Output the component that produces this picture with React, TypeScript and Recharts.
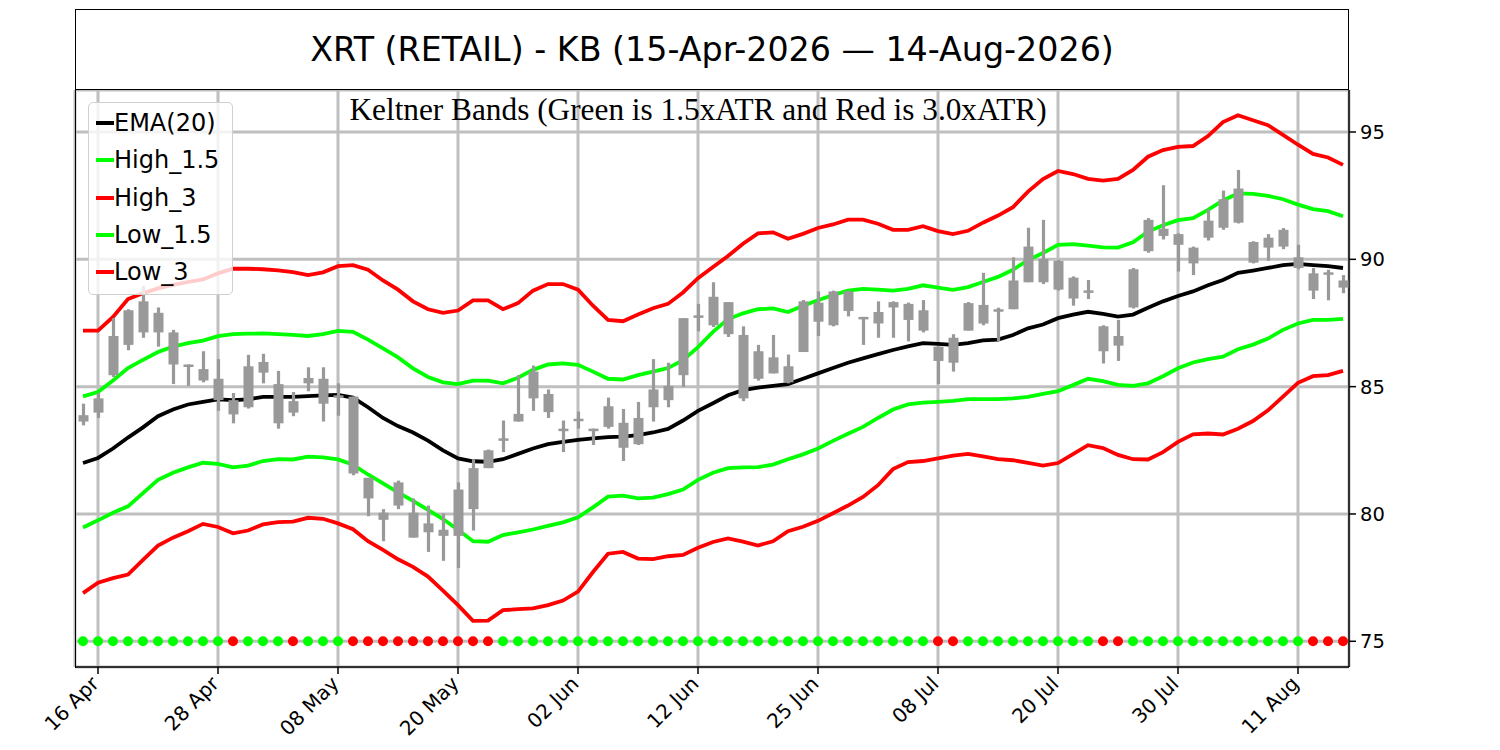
import React from "react";
import { ComposedChart, Line, Bar, Scatter, XAxis, YAxis, CartesianGrid } from "recharts";

// trading days, 15 Apr 2026 - 14 Aug 2026
const dates = [
  "15 Apr", "16 Apr", "17 Apr", "20 Apr", "21 Apr", "22 Apr", "23 Apr", "24 Apr", "27 Apr", "28 Apr", "29 Apr", "30 Apr",
  "01 May", "04 May", "05 May", "06 May", "07 May", "08 May", "11 May", "12 May", "13 May", "14 May", "15 May", "18 May",
  "19 May", "20 May", "21 May", "22 May", "26 May", "27 May", "28 May", "29 May",
  "01 Jun", "02 Jun", "03 Jun", "04 Jun", "05 Jun", "08 Jun", "09 Jun", "10 Jun", "11 Jun", "12 Jun", "15 Jun", "16 Jun",
  "17 Jun", "18 Jun", "22 Jun", "23 Jun", "24 Jun", "25 Jun", "26 Jun", "29 Jun", "30 Jun",
  "01 Jul", "02 Jul", "06 Jul", "07 Jul", "08 Jul", "09 Jul", "10 Jul", "13 Jul", "14 Jul", "15 Jul", "16 Jul", "17 Jul",
  "20 Jul", "21 Jul", "22 Jul", "23 Jul", "24 Jul", "27 Jul", "28 Jul", "29 Jul", "30 Jul", "31 Jul",
  "03 Aug", "04 Aug", "05 Aug", "06 Aug", "07 Aug", "10 Aug", "11 Aug", "12 Aug", "13 Aug", "14 Aug",
];

const opens = [
  83.63, 83.98, 85.45, 86.64, 87.13, 87.9, 87.13, 85.87, 85.24, 85.31, 84.47, 84.19, 85.55, 85.1, 83.98, 85.13, 85.31,
  84.62, 84.61, 81.42, 80.05, 80.33, 80.05, 79.63, 79.38, 79.14, 80.19, 81.8, 82.95, 83.63, 84.54, 84.71, 83.3, 83.7,
  83.35, 83.42, 83.58, 82.74, 84.19, 85.03, 85.45, 87.76, 87.41, 88.32, 87.03, 85.31, 86.15, 85.8, 86.36, 88.3, 87.41,
  88.74, 87.74, 87.48, 88.11, 88.25, 87.2, 86.57, 85.94, 87.2, 87.48, 88.04, 88.04, 89.1, 90.01, 89.94, 89.28, 88.75,
  87.37, 86.61, 88.11, 90.32, 90.92, 90.99, 90.46, 90.85, 91.24, 91.44, 90.68, 90.46, 90.5, 90.08, 89.45, 89.45, 89.17,
];
const highs = [
  84.33, 84.75, 87.69, 88.04, 88.95, 88.11, 87.23, 85.87, 86.39, 86.08, 84.75, 86.25, 86.29, 85.62, 84.79, 85.76, 85.76,
  85.13, 84.61, 81.42, 80.19, 81.31, 80.61, 80.33, 80.02, 81.24, 82.15, 82.53, 83.67, 85.45, 85.83, 84.89, 83.67, 84.02,
  83.35, 84.57, 84.12, 84.4, 86.08, 85.94, 87.69, 88.25, 89.1, 88.32, 87.37, 86.64, 87.03, 86.26, 88.4, 88.74, 88.77,
  88.77, 87.74, 88.35, 88.35, 88.3, 88.4, 86.57, 87.06, 88.32, 89.47, 88.1, 90.08, 91.24, 91.55, 89.98, 89.33, 89.19,
  87.41, 87.62, 89.66, 91.62, 92.91, 91.02, 90.5, 91.97, 92.7, 93.51, 90.71, 90.99, 91.23, 90.57, 89.66, 89.59, 89.38,
];
const lows = [
  83.48, 83.77, 85.38, 86.43, 86.92, 86.57, 85.1, 85.03, 85.17, 84.05, 83.56, 84.14, 85.13, 83.35, 83.84, 84.82, 83.63,
  83.86, 81.52, 79.91, 78.93, 80.19, 79.07, 78.51, 78.16, 77.88, 79.35, 81.8, 82.43, 83.63, 84.05, 83.77, 82.43, 83.35,
  82.71, 83.35, 82.08, 82.71, 83.63, 84.19, 84.99, 87.17, 87.34, 86.95, 84.43, 85.24, 85.52, 85.13, 86.36, 86.99, 87.37,
  87.76, 86.64, 86.92, 86.92, 86.78, 87.13, 85.1, 85.59, 87.2, 87.41, 86.78, 88.04, 89.1, 89.03, 88.77, 88.18, 88.44,
  85.91, 86.01, 88.07, 90.26, 90.78, 89.52, 89.38, 90.74, 91.16, 91.41, 89.84, 89.94, 90.4, 89.61, 88.44, 88.39, 88.67,
];
const closes = [
  83.88, 84.54, 86.99, 88.0, 88.35, 87.13, 85.87, 85.82, 85.69, 84.47, 83.91, 85.8, 85.97, 83.56, 84.43, 85.34, 84.33,
  84.66, 81.59, 80.61, 79.77, 81.24, 79.07, 79.28, 79.14, 80.96, 81.8, 82.5, 82.97, 83.93, 85.59, 84.0, 83.35, 83.74,
  83.32, 84.23, 82.6, 83.77, 84.89, 84.47, 87.69, 87.8, 88.53, 87.06, 84.54, 86.39, 85.52, 85.17, 88.35, 87.55, 88.74,
  87.97, 87.71, 87.93, 88.32, 87.62, 88.0, 86.01, 86.92, 88.28, 88.21, 88.01, 89.17, 90.5, 89.1, 88.81, 88.46, 88.78,
  86.39, 86.99, 89.61, 91.55, 91.2, 90.57, 89.84, 91.52, 92.36, 92.78, 89.87, 90.85, 91.16, 89.66, 88.77, 89.49, 88.89,
];

const ema20 = [
  82.0, 82.2, 82.57, 83.0, 83.4, 83.84, 84.1, 84.3, 84.4, 84.5, 84.47, 84.5, 84.6, 84.6, 84.6, 84.63, 84.66, 84.68,
  84.57, 84.19, 83.77, 83.45, 83.2, 82.88, 82.5, 82.18, 82.07, 82.05, 82.15, 82.36, 82.57, 82.74, 82.83, 82.91, 82.97,
  83.02, 83.04, 83.1, 83.2, 83.34, 83.67, 84.05, 84.35, 84.66, 84.86, 84.96, 85.03, 85.1, 85.31, 85.52, 85.73, 85.94,
  86.11, 86.28, 86.44, 86.58, 86.71, 86.68, 86.64, 86.71, 86.82, 86.85, 87.03, 87.29, 87.44, 87.69, 87.83, 87.94,
  87.86, 87.75, 87.83, 88.1, 88.35, 88.56, 88.74, 88.98, 89.19, 89.47, 89.56, 89.66, 89.77, 89.82, 89.77, 89.73, 89.66,
];
const high15 = [
  84.62, 84.79, 85.24, 85.73, 86.05, 86.36, 86.57, 86.71, 86.81, 86.98, 87.06, 87.08, 87.09, 87.06, 87.03, 86.99, 87.06,
  87.19, 87.15, 86.85, 86.5, 86.15, 85.72, 85.38, 85.17, 85.1, 85.24, 85.24, 85.13, 85.35, 85.66, 85.87, 85.91, 85.86,
  85.59, 85.31, 85.28, 85.45, 85.59, 85.73, 86.04, 86.55, 87.15, 87.65, 87.88, 88.04, 88.07, 87.93, 88.18, 88.39, 88.6,
  88.77, 88.84, 88.81, 88.77, 88.84, 88.98, 88.89, 88.8, 88.91, 89.11, 89.31, 89.59, 89.97, 90.25, 90.57, 90.6, 90.54,
  90.47, 90.46, 90.67, 91.09, 91.34, 91.54, 91.62, 91.94, 92.31, 92.59, 92.57, 92.49, 92.36, 92.15, 91.97, 91.89, 91.69,
];
const high3 = [
  87.2, 87.2, 87.74, 88.44, 88.67, 88.86, 89.0, 89.11, 89.21, 89.45, 89.63, 89.63, 89.61, 89.57, 89.5, 89.38, 89.49,
  89.73, 89.77, 89.59, 89.17, 88.81, 88.35, 88.04, 87.9, 87.99, 88.39, 88.39, 88.04, 88.28, 88.77, 89.03, 89.03, 88.81,
  88.18, 87.62, 87.57, 87.83, 88.08, 88.25, 88.7, 89.26, 89.7, 90.13, 90.61, 91.02, 91.06, 90.81, 91.0, 91.23, 91.37,
  91.56, 91.56, 91.4, 91.16, 91.16, 91.3, 91.11, 90.99, 91.12, 91.44, 91.72, 92.05, 92.66, 93.15, 93.47, 93.35, 93.16,
  93.09, 93.16, 93.51, 94.03, 94.29, 94.42, 94.45, 94.84, 95.39, 95.66, 95.46, 95.27, 94.89, 94.5, 94.14, 94.0, 93.71,
];
const low15 = [
  79.47, 79.75, 80.05, 80.3, 80.82, 81.34, 81.62, 81.83, 82.01, 81.97, 81.83, 81.9, 82.08, 82.15, 82.14, 82.25, 82.22,
  82.14, 81.93, 81.55, 81.2, 80.85, 80.51, 80.16, 79.8, 79.38, 78.93, 78.91, 79.17, 79.28, 79.39, 79.53, 79.67, 79.87,
  80.26, 80.68, 80.72, 80.61, 80.64, 80.78, 80.96, 81.34, 81.62, 81.8, 81.83, 81.84, 81.94, 82.15, 82.34, 82.57, 82.87,
  83.15, 83.42, 83.77, 84.1, 84.3, 84.37, 84.4, 84.44, 84.51, 84.51, 84.51, 84.54, 84.6, 84.72, 84.82, 85.06, 85.31,
  85.22, 85.07, 85.03, 85.13, 85.41, 85.72, 85.95, 86.08, 86.18, 86.47, 86.65, 86.89, 87.23, 87.48, 87.62, 87.62, 87.66,
];
const low3 = [
  76.89, 77.3, 77.48, 77.62, 78.2, 78.76, 79.07, 79.32, 79.61, 79.49, 79.24, 79.35, 79.59, 79.68, 79.7, 79.85, 79.81,
  79.63, 79.4, 78.93, 78.59, 78.22, 77.92, 77.54, 76.99, 76.42, 75.8, 75.81, 76.22, 76.26, 76.29, 76.42, 76.6, 76.95,
  77.72, 78.44, 78.51, 78.25, 78.23, 78.34, 78.39, 78.67, 78.9, 79.04, 78.91, 78.76, 78.93, 79.32, 79.5, 79.73, 80.03,
  80.33, 80.67, 81.13, 81.76, 82.04, 82.08, 82.18, 82.29, 82.36, 82.26, 82.15, 82.11, 82.01, 81.9, 82.0, 82.35, 82.7,
  82.59, 82.32, 82.15, 82.14, 82.43, 82.83, 83.13, 83.16, 83.12, 83.35, 83.65, 84.07, 84.61, 85.15, 85.41, 85.45, 85.62,
];

// G = inside bands, R = outside
const signals = [
  "G", "G", "G", "G", "G", "G", "G", "G", "G", "G", "R", "G", "G", "G", "R", "G", "G", "G", "R", "R", "R", "R",
  "R", "R", "R", "R", "R", "R", "G", "G", "G", "G", "G", "G", "G", "G", "G", "G", "G", "G", "G", "G", "G", "G",
  "G", "G", "G", "G", "G", "G", "G", "G", "G", "G", "G", "G", "G", "R", "R", "G", "G", "G", "G", "G", "G", "G",
  "G", "G", "R", "R", "G", "G", "G", "G", "G", "G", "G", "G", "G", "G", "G", "G", "R", "R", "R",
];
const signalLevel = 75;

const xTicks = [1, 9, 17, 25, 33, 41, 49, 57, 65, 73, 81];
const yTicks = [75, 80, 85, 90, 95];

const data = dates.map((d, i) => ({
  idx: i,
  date: d,
  open: opens[i],
  high: highs[i],
  low: lows[i],
  close: closes[i],
  range: [lows[i], highs[i]],
  ema: ema20[i],
  high15: high15[i],
  high3: high3[i],
  low15: low15[i],
  low3: low3[i],
  sig: signalLevel,
  signal: signals[i],
}));

const FONT = "'DejaVu Sans', Verdana, sans-serif";
const GREEN = "#00ff00";
const RED = "#ff0000";
const CANDLE = "#999999";

const Candle = (props: any) => {
  const { x, y, width, height, payload } = props;
  if (!payload) return null;
  const top = Math.min(y, y + height);
  const h = Math.abs(height);
  const hi = payload.high;
  const lo = payload.low;
  const toPx = (v: number) => top + ((hi - v) / (hi - lo)) * h;
  const bTop = toPx(Math.max(payload.open, payload.close));
  const bBot = toPx(Math.min(payload.open, payload.close));
  const cx = x + width / 2;
  return (
    <g>
      <rect x={cx - 1.6} y={top} width={3.2} height={h} fill={CANDLE} />
      <rect x={cx - 5} y={bTop} width={10} height={Math.max(bBot - bTop, 2.5)} fill={CANDLE} />
    </g>
  );
};

const SignalDot = (props: any) => {
  const { cx, cy, payload } = props;
  return <circle cx={cx} cy={cy} r={5} fill={payload.signal === "R" ? RED : GREEN} />;
};

const DateTick = (props: any) => {
  const { x, y, payload } = props;
  return (
    <g transform={`translate(${x + 2},${y + 9}) rotate(-45)`}>
      <text textAnchor="end" fontFamily={FONT} fontSize={20} fill="#000">
        {dates[payload.value]}
      </text>
    </g>
  );
};

const legendItems = [
  { label: "EMA(20)", color: "#000000" },
  { label: "High_1.5", color: GREEN },
  { label: "High_3", color: RED },
  { label: "Low_1.5", color: GREEN },
  { label: "Low_3", color: RED },
];

export default function App() {
  return (
    <div style={{ position: "absolute", left: 0, top: 0, width: 1500, height: 750, background: "#fff" }}>
      <ComposedChart width={1500} height={750} data={data} margin={{ top: 90, right: 91, bottom: 13, left: 75 }}>
        <CartesianGrid stroke="#bfbfbf" strokeWidth={3} />
        <XAxis
          dataKey="idx"
          type="number"
          domain={[-0.533, 84.4]}
          allowDataOverflow
          ticks={xTicks}
          interval={0}
          height={70}
          tick={<DateTick />}
          tickSize={7}
          tickLine={{ stroke: "#000", strokeWidth: 1.5 }}
          axisLine={{ stroke: "#000", strokeWidth: 1.5 }}
        />
        <YAxis
          orientation="right"
          type="number"
          domain={[73.99, 96.65]}
          allowDataOverflow
          ticks={yTicks}
          width={60}
          tickSize={7}
          tickMargin={4}
          tick={{ fontFamily: FONT, fontSize: 19.5, fill: "#000" }}
          tickLine={{ stroke: "#000", strokeWidth: 1.5 }}
          axisLine={{ stroke: "#000", strokeWidth: 1.5 }}
        />
        <Line dataKey="ema" type="linear" stroke="#000" strokeWidth={3.8} dot={false} activeDot={false} isAnimationActive={false} />
        <Line dataKey="high15" type="linear" stroke={GREEN} strokeWidth={3.8} dot={false} activeDot={false} isAnimationActive={false} />
        <Line dataKey="high3" type="linear" stroke={RED} strokeWidth={3.8} dot={false} activeDot={false} isAnimationActive={false} />
        <Line dataKey="low15" type="linear" stroke={GREEN} strokeWidth={3.8} dot={false} activeDot={false} isAnimationActive={false} />
        <Line dataKey="low3" type="linear" stroke={RED} strokeWidth={3.8} dot={false} activeDot={false} isAnimationActive={false} />
        <Bar dataKey="range" barSize={10} shape={<Candle />} isAnimationActive={false} zIndex={500} />
        <Scatter dataKey="sig" shape={<SignalDot />} isAnimationActive={false} />
      </ComposedChart>

      {/* title box */}
      <div
        style={{
          position: "absolute",
          left: 75,
          top: 9,
          width: 1274,
          height: 81,
          boxSizing: "border-box",
          border: "1.5px solid #000",
          background: "#fff",
          fontFamily: FONT,
          fontSize: 33.3,
          lineHeight: "80px",
          textAlign: "center",
          color: "#000",
        }}
      >
        XRT (RETAIL) - KB (15-Apr-2026 — 14-Aug-2026)
      </div>

      {/* plot frame */}
      <div
        style={{
          position: "absolute",
          left: 75,
          top: 89,
          width: 1275,
          height: 579,
          boxSizing: "border-box",
          borderLeft: "1.5px solid #000",
          pointerEvents: "none",
        }}
      />

      <div
        style={{
          position: "absolute",
          left: 61,
          top: 90,
          width: 1274,
          textAlign: "center",
          fontFamily: "'Liberation Serif', 'Times New Roman', serif",
          fontSize: 31.3,
          lineHeight: "40px",
          color: "#000",
        }}
      >
        Keltner Bands (Green is 1.5xATR and Red is 3.0xATR)
      </div>

      {/* legend */}
      <div
        style={{
          position: "absolute",
          left: 88,
          top: 102,
          width: 145,
          height: 193,
          boxSizing: "border-box",
          border: "1px solid #d0d0d0",
          borderRadius: 5,
          background: "rgba(255,255,255,0.8)",
        }}
      >
        {legendItems.map((it, k) => (
          <div
            key={it.label}
            style={{ position: "absolute", left: 7, top: 2 + k * 37.3, height: 36, display: "flex", alignItems: "center" }}
          >
            <div style={{ width: 18, height: 4, background: it.color }} />
            <span style={{ fontFamily: FONT, fontSize: 24, color: "#000", whiteSpace: "nowrap" }}>{it.label}</span>
          </div>
        ))}
      </div>
    </div>
  );
}
